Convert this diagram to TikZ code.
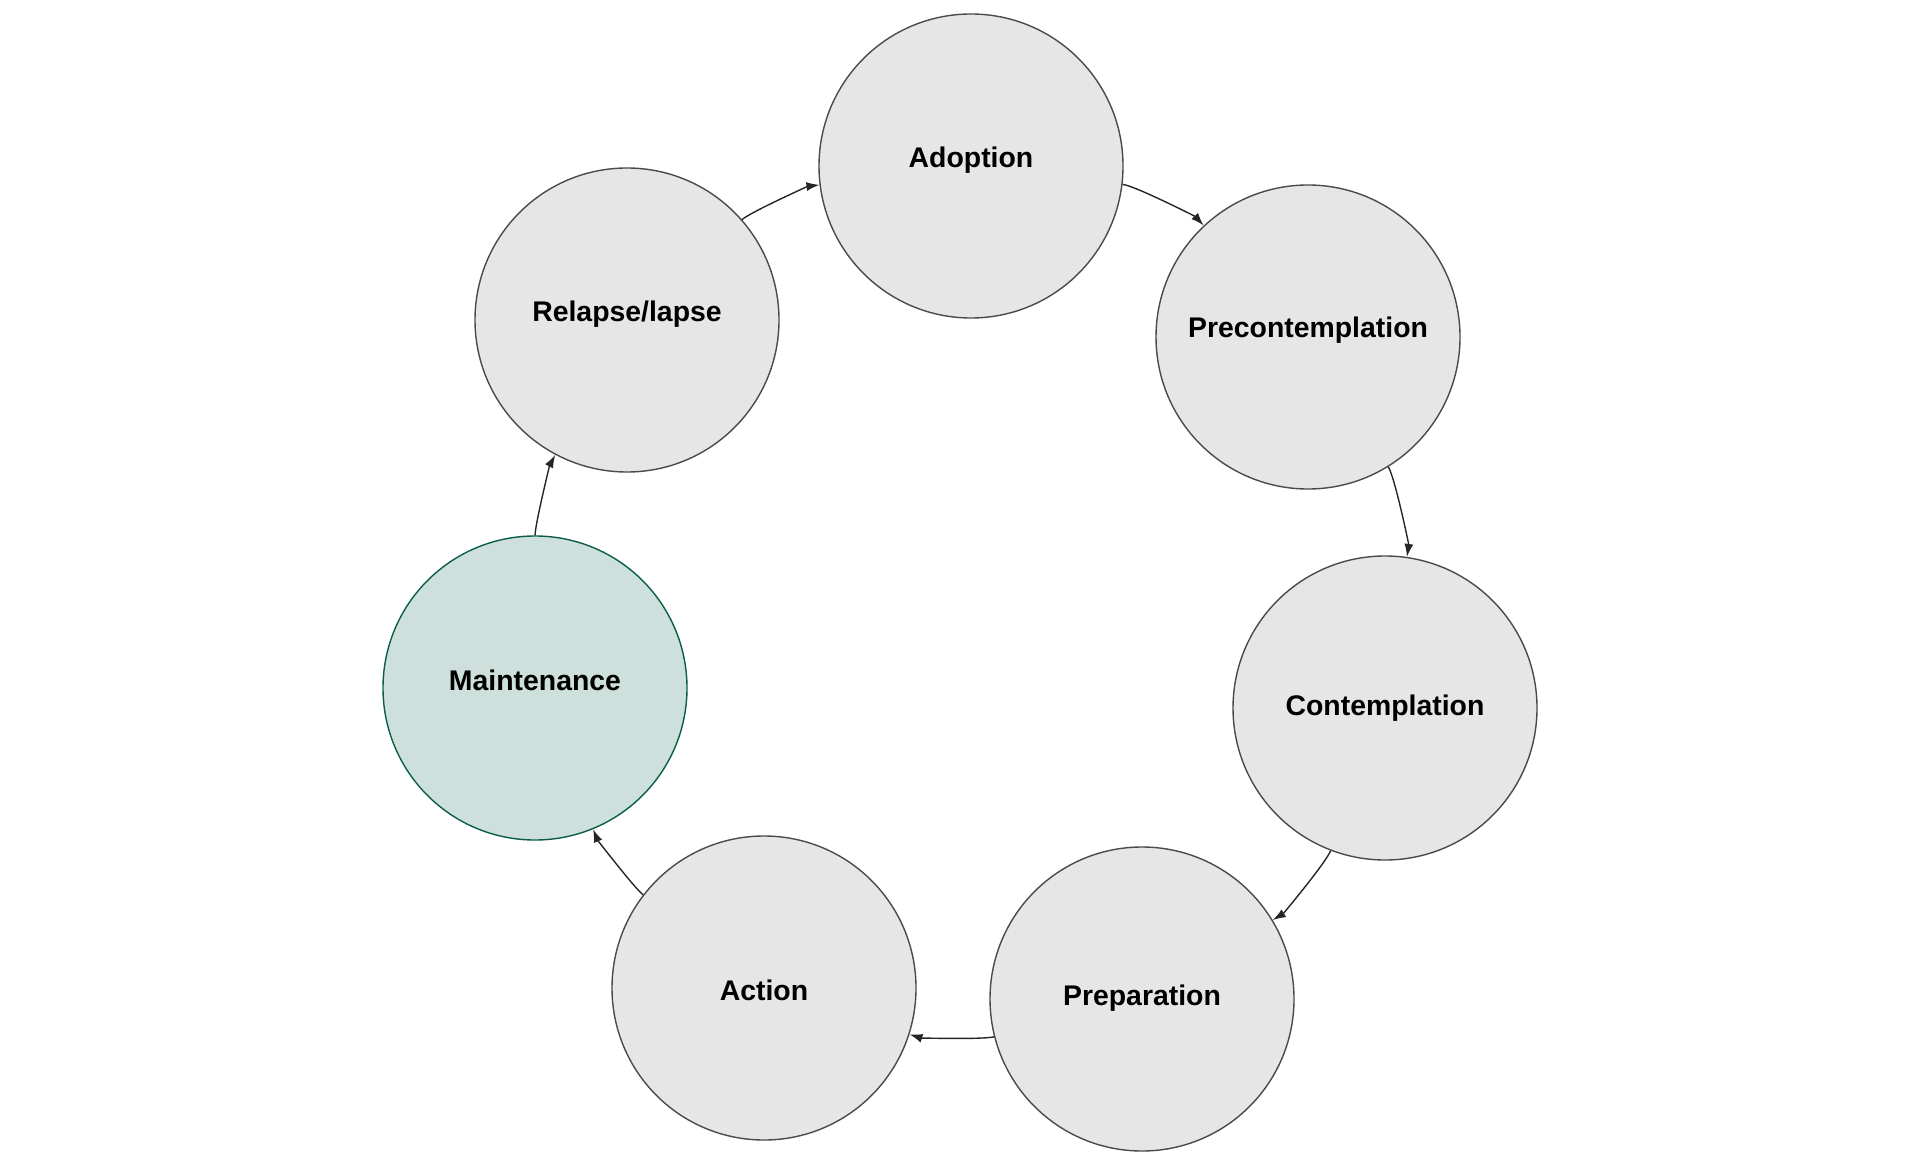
\documentclass[tikz,border=0pt]{standalone}
\usepackage{fontspec}
\setmainfont{Liberation Sans}
\usepackage{tikz}
\usetikzlibrary{arrows.meta,calc}

\definecolor{stagefill}{HTML}{E6E6E6}
\definecolor{stageline}{HTML}{4A4A4A}
\definecolor{maintfill}{HTML}{CDE0DC}
\definecolor{maintline}{HTML}{0B5D4B}

\begin{document}
\begin{tikzpicture}[x=0.5pt,y=0.5pt,
	stage/.style={circle, draw=stageline, fill=stagefill, line width=0.7pt, minimum size=152pt, inner sep=0pt,
		font=\fontsize{14.2}{17}\selectfont\bfseries, text height=14pt, text depth=#1},
	stage/.default=12.6pt,
	maintstage/.style={stage=#1, draw=maintline, fill=maintfill},
	maintstage/.default=11.6pt,
	flow/.style={draw=black!85, line width=0.7pt, -{Latex[length=6.5pt,width=4.5pt]}}]
	\useasboundingbox (0,0) rectangle (1920,1164);
	% stages round the cycle
	\node[stage] (adoption) at (971,998) {Adoption};
	\node[stage=13.6pt] (precont) at (1308,827) {Precontemplation};
	\node[stage=6.6pt] (contemp) at (1385,456) {Contemplation};
	\node[stage=7.6pt] (prep) at (1142,165) {Preparation};
	\node[stage=1.6pt] (action) at (764,176) {Action};
	\node[maintstage] (maint) at (535,476) {Maintenance};
	\node[stage] (relapse) at (627,844) {Relapse/lapse};
	% arrows
	\foreach \a/\b/\bend in {adoption/precont/20, precont/contemp/20, contemp/prep/19, prep/action/16,
		action/maint/15, maint/relapse/14, relapse/adoption/17} {
		\draw[flow] (\a) to[bend left=\bend, looseness=0.35] (\b);
	}
\end{tikzpicture}
\end{document}
